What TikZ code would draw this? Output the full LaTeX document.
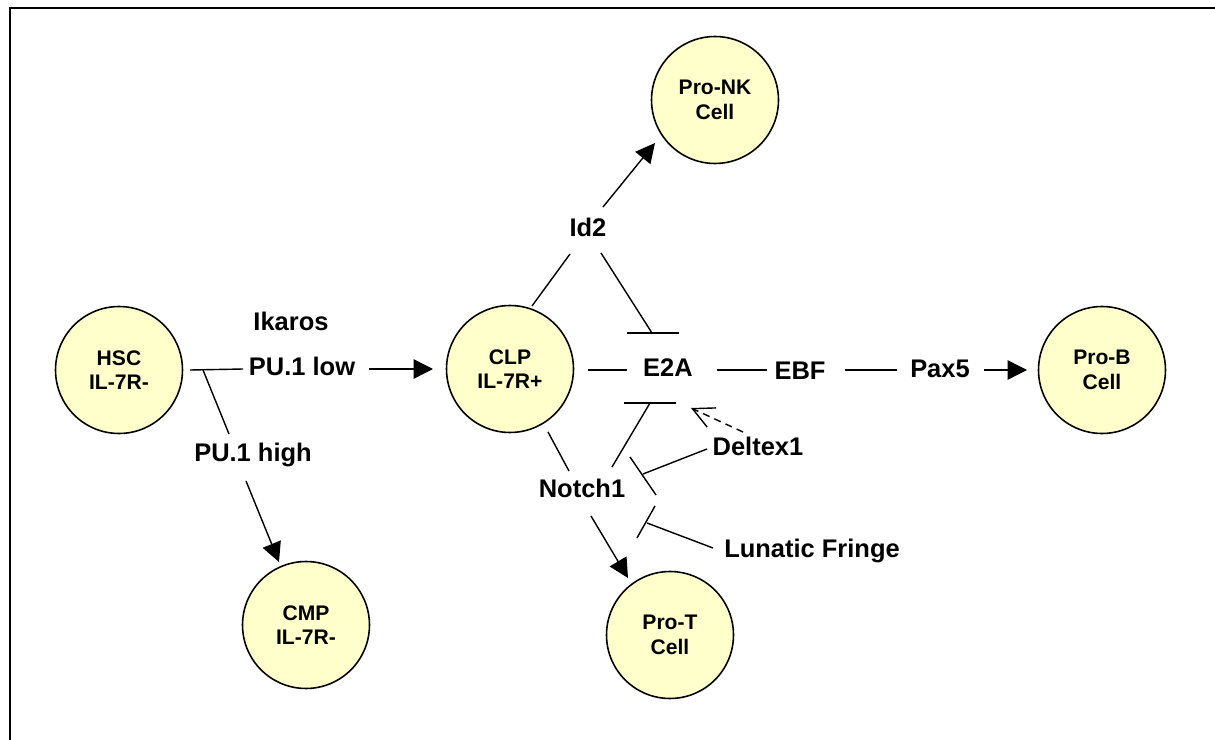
\documentclass[tikz,border=0pt]{standalone}
\usepackage{fontspec}
\setmainfont{Liberation Sans}
\usepackage{tikz}
\usetikzlibrary{arrows.meta,calc}
\definecolor{cellfill}{HTML}{FFFFCC}

\begin{document}
\begin{tikzpicture}[x=0.02cm,y=-0.02cm,
  cell/.style={circle,draw,line width=0.9pt,fill=cellfill,minimum size=2.54cm,inner sep=0pt,align=center,font=\fontsize{12}{14}\selectfont\bfseries},
  gene/.style={inner sep=2pt,text height=10.4pt,text depth=0pt,font=\fontsize{14.5}{17}\selectfont\bfseries},
  link/.style={line width=0.8pt},
  act/.style={link,-{Triangle[length=11pt,width=11pt]}},
  weak/.style={link,dash pattern=on 4pt off 3pt,-{Straight Barb[length=12pt,width=12pt]}}]
\useasboundingbox (0,0) rectangle (1215,740);
\draw[line width=1.2pt] (10,740) -- (10,7.7) -- (1215,7.7);
\node[cell] (hsc) at (119,370) {HSC\\IL-7R-};
\node[cell] (clp) at (510,369) {CLP\\IL-7R+};
\node[cell] (pronk) at (715,100) {Pro-NK\\Cell};
\node[cell] (prob) at (1102,370) {Pro-B\\Cell};
\node[cell] (cmp) at (306,625) {CMP\\IL-7R-};
\node[cell] (prot) at (670,635) {Pro-T\\Cell};
\node[gene] (ikaros) at (291,321) {Ikaros};
\node[gene] (pulow) at (302,366) {PU.1 low};
\node[gene] (puhigh) at (253,452) {PU.1 high};
\node[gene] (id2) at (588,227) {Id2};
\node[gene] (e2a) at (668,367) {E2A};
\node[gene] (ebf) at (800,370) {EBF};
\node[gene] (pax5) at (940,368) {Pax5};
\node[gene] (notch) at (582,488) {Notch1};
\node[gene] (deltex) at (758,446) {Deltex1};
\node[gene] (lfringe) at (812,548) {Lunatic Fringe};
\draw[link] ($(hsc)+(71,0)$) -- ($(pulow)+(-59,3)$);
\draw[link] ($(hsc)+(84,0)$) -- ($(puhigh)+(-24,-18)$);
\draw[act] ($(puhigh)+(-7,29)$) -- ($(cmp)+(-27,-63)$);
\draw[act] ($(pulow)+(67,3)$) -- ($(clp)+(-77,0)$);
\draw[link] ($(clp)+(22,-63)$) -- ($(id2)+(-18,27)$);
\draw[act] ($(id2)+(15,-20)$) -- ($(pronk)+(-60,43)$);
\draw[link] ($(id2)+(13,26)$) -- ($(e2a)+(-16,-34)$);
\draw[link] ($(e2a)+(-41,-34)$) -- ($(e2a)+(11,-34)$);
\draw[link] ($(clp)+(78,1)$) -- ($(e2a)+(-41,3)$);
\draw[link] ($(e2a)+(49,3)$) -- ($(ebf)+(-33,0)$);
\draw[link] ($(ebf)+(45,0)$) -- ($(pax5)+(-43,2)$);
\draw[act] ($(pax5)+(44,2)$) -- ($(prob)+(-75,0)$);
\draw[link] ($(clp)+(38,63)$) -- ($(notch)+(-13,-17)$);
\draw[link] ($(notch)+(30,-21)$) -- ($(e2a)+(-18,36)$);
\draw[link] ($(e2a)+(-44,36)$) -- ($(e2a)+(8,36)$);
\draw[act] ($(notch)+(9,28)$) -- ($(prot)+(-42,-57)$);
\draw[weak] ($(deltex)+(-15,-14)$) -- ($(e2a)+(23,41)$);
\draw[link] ($(deltex)+(-51,3)$) -- ($(notch)+(61,-14)$);
\draw[link] ($(notch)+(48,-31)$) -- ($(notch)+(74,7)$);
\draw[link] ($(lfringe)+(-99,0)$) -- ($(notch)+(65,35)$);
\draw[link] ($(notch)+(73,18)$) -- ($(notch)+(55,50)$);
\end{tikzpicture}
\end{document}
